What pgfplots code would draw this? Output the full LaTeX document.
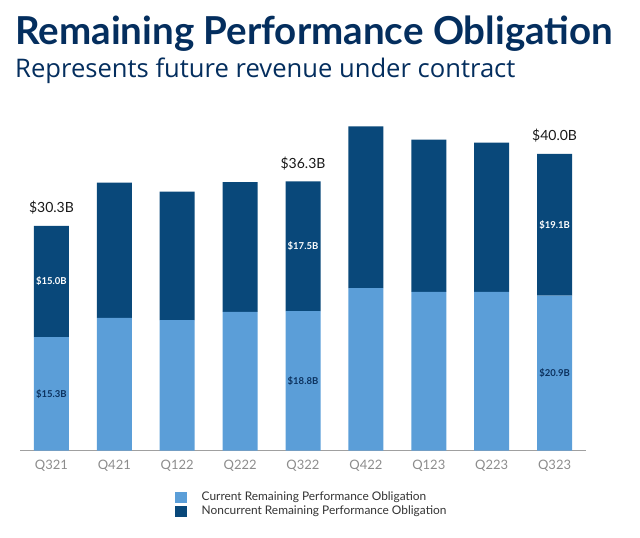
\documentclass[border=0pt]{standalone}
\usepackage{pgfplots}
\pgfplotsset{compat=1.18}
\usepackage{fontspec}
\setmainfont{Lato}
\newfontfamily\subfont{Open Sans}
\definecolor{lightbar}{RGB}{91,158,216}
\definecolor{darkbar}{RGB}{9,72,122}
\definecolor{titlenavy}{RGB}{4,46,94}
\definecolor{axisgray}{RGB}{160,160,160}
\definecolor{tickgray}{RGB}{140,140,140}
\definecolor{lblnavy}{RGB}{12,50,95}
\pgfplotstableread{
x cur non
0 15.3 15.0
1 17.9 18.2
2 17.6 17.3
3 18.7 17.5
4 18.8 17.5
5 21.9 21.8
6 21.4 20.5
7 21.4 20.1
8 20.9 19.1
}\rpo
\begin{document}
\begin{tikzpicture}[x=1bp,y=1bp]
\path[use as bounding box] (0,0) rectangle (640,538);
\node[anchor=base west, inner sep=0pt, text=titlenavy, font=\fontsize{38.5bp}{42bp}\selectfont\bfseries] at (15,493) {Remaining Performance Obligation};
\node[anchor=base west, inner sep=0pt, text=titlenavy, font=\subfont\fontsize{25.6bp}{29bp}\selectfont] at (15,460) {Represents future revenue under contract};
\begin{axis}[
  at={(20bp,87.3bp)}, anchor=south west,
  scale only axis, width=566bp, height=334bp,
  xmin=-0.5, xmax=8.5, ymin=0, ymax=45,
  ybar stacked, bar width=35bp,
  axis x line*=bottom, axis y line=none,
  x axis line style={draw=axisgray, line width=1.5bp, -},
  xtick={0,...,8},
  xticklabels={Q321,Q421,Q122,Q222,Q322,Q422,Q123,Q223,Q323},
  major tick length=0pt,
  xticklabel style={text=tickgray, font=\fontsize{13bp}{15bp}\selectfont, yshift=-6bp},
  legend style={at={(0.273,-0.117)}, anchor=north west, draw=none, fill=none,
    font=\fontsize{11.9bp}{13bp}\selectfont, text=black!80, row sep=0pt, inner sep=0pt,
    cells={anchor=west}},
]
\addplot[fill=lightbar, draw=none, legend image code/.code={\fill[lightbar] (0bp,-5.5bp) rectangle (12bp,5.5bp); \path (25bp,0bp);}] table[x=x, y=cur] {\rpo};
\addlegendentry{Current Remaining Performance Obligation}
\addplot[fill=darkbar, draw=none, legend image code/.code={\fill[darkbar] (0bp,-5.5bp) rectangle (12bp,5.5bp); \path (25bp,0bp);}] table[x=x, y=non] {\rpo};
\addlegendentry{Noncurrent Remaining Performance Obligation}
\end{axis}
\begin{axis}[
  at={(20bp,87.3bp)}, anchor=south west,
  scale only axis, width=566bp, height=334bp,
  xmin=-0.5, xmax=8.5, ymin=0, ymax=45,
  hide axis,
]
\addplot[draw=none, mark=none, nodes near coords, point meta=explicit symbolic,
  nodes near coords align=center,
  every node near coord/.append style={text=lblnavy, font=\fontsize{9.5bp}{11bp}\selectfont\bfseries}]
  coordinates {(0,7.65)[\$15.3B] (4,9.4)[\$18.8B] (8,10.45)[\$20.9B]};
\addplot[draw=none, mark=none, nodes near coords, point meta=explicit symbolic,
  nodes near coords align=center,
  every node near coord/.append style={text=white, font=\fontsize{9.5bp}{11bp}\selectfont\bfseries}]
  coordinates {(0,22.8)[\$15.0B] (4,27.55)[\$17.5B] (8,30.45)[\$19.1B]};
\addplot[draw=none, mark=none, nodes near coords, point meta=explicit symbolic,
  nodes near coords align=center,
  every node near coord/.append style={text=black!90, yshift=18bp, font=\fontsize{14bp}{16bp}\selectfont}]
  coordinates {(0,30.3)[\$30.3B] (4,36.3)[\$36.3B] (8,40.0)[\$40.0B]};
\end{axis}
\end{tikzpicture}
\end{document}
